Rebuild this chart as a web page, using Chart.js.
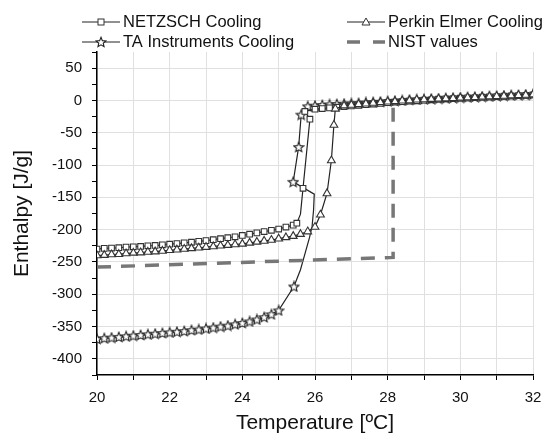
<!DOCTYPE html>
<html>
<head>
<meta charset="UTF-8">
<title>Enthalpy - Cooling</title>
<script src="https://cdn.jsdelivr.net/npm/chart.js"></script>
<style>
  body { margin: 0; background: #fff; }
  #caixa { width: 553px; height: 435px; }
</style>
</head>
<body>
<div id="caixa"><canvas id="grafico"></canvas></div>
<script>
// NETZSCH Cooling (squares)
const netzschT = [20.0, 20.2, 20.4, 20.6, 20.8, 21.0, 21.2, 21.4, 21.6, 21.8, 22.0, 22.2, 22.4, 22.6, 22.8,
  23.0, 23.2, 23.4, 23.6, 23.8, 24.0, 24.2, 24.4, 24.6, 24.8, 25.0, 25.2, 25.4,
  25.5, 25.6, 25.67, 25.86, 25.72,
  26.0, 26.2, 26.4, 26.6, 26.8, 27.0, 27.2, 27.4, 27.6, 27.8, 28.0, 28.2, 28.4, 28.6, 28.8,
  29.0, 29.2, 29.4, 29.6, 29.8, 30.0, 30.2, 30.4, 30.6, 30.8, 31.0, 31.2, 31.4, 31.6, 31.8, 32.0];
const netzschH = [-230, -229, -228.5, -228, -227, -226.5, -226, -225, -224.5, -223.5, -222.5, -221.5, -220.5, -219.5, -218,
  -217, -215.5, -214, -212.5, -211, -209, -207, -205, -203, -201, -199, -196, -193,
  -190, -176, -136, -29, -17,
  -13.5, -12.5, -11.5, -10.5, -9.5, -8.5, -7.5, -6.5, -5.5, -4.5, -3.5, -2.5, -2, -1, -0.5,
  0.5, 1, 2, 2.5, 3, 3.5, 4, 4.5, 5, 5.5, 6, 6.5, 7, 7.5, 8, 8.5];

// Perkin Elmer Cooling (triangles)
const perkinT = [20.0, 20.2, 20.4, 20.6, 20.8, 21.0, 21.2, 21.4, 21.6, 21.8, 22.0, 22.2, 22.4, 22.6, 22.8,
  23.0, 23.2, 23.4, 23.6, 23.8, 24.0, 24.2, 24.4, 24.6, 24.8, 25.0, 25.2, 25.4, 25.6, 25.8,
  26.0, 26.15, 26.33, 26.45, 26.52, 26.56,
  26.8, 27.0, 27.2, 27.4, 27.6, 27.8, 28.0, 28.2, 28.4, 28.6, 28.8,
  29.0, 29.2, 29.4, 29.6, 29.8, 30.0, 30.2, 30.4, 30.6, 30.8, 31.0, 31.2, 31.4, 31.6, 31.8, 32.0];
const perkinH = [-240, -239.5, -238.5, -238, -237, -236, -235.5, -234.5, -234, -233, -232, -231, -230, -229, -228,
  -227, -226, -225, -224, -223, -222, -220.5, -219, -217.5, -216, -214, -212, -210, -207, -203,
  -196, -177, -144, -93, -38, -13,
  -8, -7, -6, -5, -4, -3, -2, -1.5, -0.5, 0, 1,
  1.5, 2, 2.5, 3, 3.5, 4, 4.5, 5, 5.5, 6, 6.5, 7, 7.5, 8, 8.5, 9];

// TA Instruments Cooling (stars)
const taT = [20.0, 20.2, 20.4, 20.6, 20.8, 21.0, 21.2, 21.4, 21.6, 21.8, 22.0, 22.2, 22.4, 22.6, 22.8,
  23.0, 23.2, 23.4, 23.6, 23.8, 24.0, 24.2, 24.4, 24.6, 24.8, 25.0,
  25.42, 25.6, 25.75, 25.85, 25.92, 25.96, 25.98, 25.40, 25.55, 25.62,
  25.8, 26.0, 26.2, 26.4, 26.6, 26.8, 27.0, 27.2, 27.4, 27.6, 27.8, 28.0, 28.2, 28.4, 28.6, 28.8,
  29.0, 29.2, 29.4, 29.6, 29.8, 30.0, 30.2, 30.4, 30.6, 30.8, 31.0, 31.2, 31.4, 31.6, 31.8, 32.0];
const taH = [-369, -368, -367, -366, -365, -364, -363, -362, -361, -360, -359, -358, -357, -355.5, -354.5,
  -353, -351.5, -350, -348.5, -346.5, -344.5, -342, -339, -335.5, -331, -325,
  -288, -262, -232, -212, -195, -170, -145, -126, -72, -22,
  -9, -8, -7, -6, -5.5, -5, -4.5, -4, -3, -2.5, -2, -1, -0.5, 0, 1, 1.5,
  2, 2.5, 3, 3.5, 4, 4.5, 5, 5.5, 6, 6.5, 7, 7.5, 8, 8.5, 9, 9.5];

// NIST values
const nistT = [20, 28.15, 28.15];
const nistH = [-258, -243, -8];

// pontos só de linha (sem marcador)
const semMarcaNetzsch = [29];
const semMarcaTA = [27, 28, 29, 30, 31, 32];

function pares(xs, ys) {
  return xs.map((x, i) => ({ x: x, y: ys[i] }));
}

function estrela(tam) {
  const c = document.createElement('canvas');
  c.width = tam; c.height = tam;
  const g = c.getContext('2d');
  const cx = tam / 2, cy = tam / 2 + 0.5, R = tam / 2 - 0.8, r = R * 0.45;
  g.beginPath();
  for (let i = 0; i < 10; i++) {
    const a = -Math.PI / 2 + i * Math.PI / 5;
    const rr = i % 2 ? r : R;
    g.lineTo(cx + rr * Math.cos(a), cy + rr * Math.sin(a));
  }
  g.closePath();
  g.fillStyle = '#fff';
  g.fill();
  g.strokeStyle = '#222';
  g.lineWidth = 1.1;
  g.stroke();
  return c;
}
const imgEstrela = estrela(12);

const fonte = "'Liberation Sans', Arial, sans-serif";

function raio(lista, r) {
  return ctx => lista.includes(ctx.dataIndex) ? 0 : r;
}

const legenda = {
  id: 'legendaManual',
  afterDraw(chart) {
    const c = chart.ctx;
    c.save();
    c.font = '16.5px ' + fonte;
    c.fillStyle = '#111';
    c.textBaseline = 'middle';
    const itens = [
      { x: 82, y: 22, tipo: 'quadrado', txt: 'NETZSCH Cooling' },
      { x: 347, y: 22, tipo: 'triangulo', txt: 'Perkin Elmer Cooling' },
      { x: 82, y: 42, tipo: 'estrela', txt: 'TA Instruments Cooling' },
      { x: 347, y: 42, tipo: 'nist', txt: 'NIST values' }
    ];
    itens.forEach(it => {
      const meio = it.x + 19;
      if (it.tipo === 'nist') {
        c.strokeStyle = '#777';
        c.lineWidth = 3.5;
        c.beginPath();
        c.moveTo(it.x, it.y); c.lineTo(it.x + 13, it.y);
        c.moveTo(it.x + 26, it.y); c.lineTo(it.x + 38, it.y);
        c.stroke();
      } else {
        c.strokeStyle = '#222';
        c.lineWidth = 1;
        c.beginPath();
        c.moveTo(it.x, it.y); c.lineTo(it.x + 38, it.y);
        c.stroke();
        c.fillStyle = '#fff';
        c.strokeStyle = '#333';
        if (it.tipo === 'quadrado') {
          c.fillRect(meio - 3, it.y - 3, 6, 6);
          c.strokeRect(meio - 3, it.y - 3, 6, 6);
        } else if (it.tipo === 'triangulo') {
          c.beginPath();
          c.moveTo(meio, it.y - 4); c.lineTo(meio + 4, it.y + 3); c.lineTo(meio - 4, it.y + 3);
          c.closePath(); c.fill(); c.stroke();
        } else {
          c.drawImage(imgEstrela, meio - 6, it.y - 6);
        }
        c.fillStyle = '#111';
      }
      c.fillText(it.txt, it.x + 41, it.y);
    });
    c.restore();
  }
};

const estiloLinha = {
  showLine: true,
  borderColor: '#222',
  borderWidth: 1.2,
  pointBackgroundColor: '#fff',
  pointBorderColor: '#333',
  pointBorderWidth: 1.1,
  tension: 0
};

new Chart(document.getElementById('grafico'), {
  type: 'scatter',
  data: {
    datasets: [
      Object.assign({}, estiloLinha, {
        label: 'NIST values',
        data: pares(nistT, nistH),
        borderColor: '#777',
        borderWidth: 3.5,
        borderDash: [14, 10],
        pointRadius: 0
      }),
      Object.assign({}, estiloLinha, {
        label: 'Perkin Elmer Cooling',
        data: pares(perkinT, perkinH),
        pointStyle: 'triangle',
        pointRadius: 4.5
      }),
      Object.assign({}, estiloLinha, {
        label: 'NETZSCH Cooling',
        data: pares(netzschT, netzschH),
        pointStyle: 'rect',
        pointRadius: raio(semMarcaNetzsch, 4)
      }),
      Object.assign({}, estiloLinha, {
        label: 'TA Instruments Cooling',
        data: pares(taT, taH),
        pointStyle: imgEstrela,
        pointRadius: raio(semMarcaTA, 5)
      })
    ]
  },
  options: {
    responsive: true,
    maintainAspectRatio: false,
    animation: false,
    layout: { padding: { top: 52, right: 20, left: 0, bottom: 0 } },
    plugins: {
      legend: { display: false },
      tooltip: { enabled: false }
    },
    scales: {
      x: {
        type: 'linear',
        min: 20,
        max: 32,
        afterFit: s => { s.height = 60; },
        border: { color: '#000', width: 1.5 },
        grid: { color: '#e0e0e0', tickColor: '#000', tickLength: 5 },
        ticks: {
          stepSize: 1,
          autoSkip: false,
          maxRotation: 0,
          padding: 9,
          color: '#111',
          font: { family: fonte, size: 15 },
          callback: v => (v % 2 === 0 ? v : '')
        },
        title: {
          display: true,
          text: 'Temperature [ºC]',
          color: '#111',
          font: { family: fonte, size: 21, lineHeight: 1.0 },
          padding: { top: 0, bottom: 1 }
        }
      },
      y: {
        type: 'linear',
        min: -425,
        max: 75,
        afterFit: s => { s.width = 97; },
        border: { color: '#000', width: 1.5 },
        grid: {
          color: ctx => (ctx.tick && ctx.tick.value % 50 === 0 ? '#e0e0e0' : 'rgba(0,0,0,0)'),
          tickColor: '#000',
          tickLength: 5
        },
        ticks: {
          stepSize: 25,
          autoSkip: false,
          padding: 10,
          color: '#111',
          font: { family: fonte, size: 15 },
          callback: v => (v % 50 === 0 ? v : '')
        },
        title: {
          display: true,
          text: 'Enthalpy [J/g]',
          color: '#111',
          font: { family: fonte, size: 21 },
          padding: { top: 10, bottom: 0 }
        }
      }
    }
  },
  plugins: [legenda]
});
</script>
</body>
</html>
